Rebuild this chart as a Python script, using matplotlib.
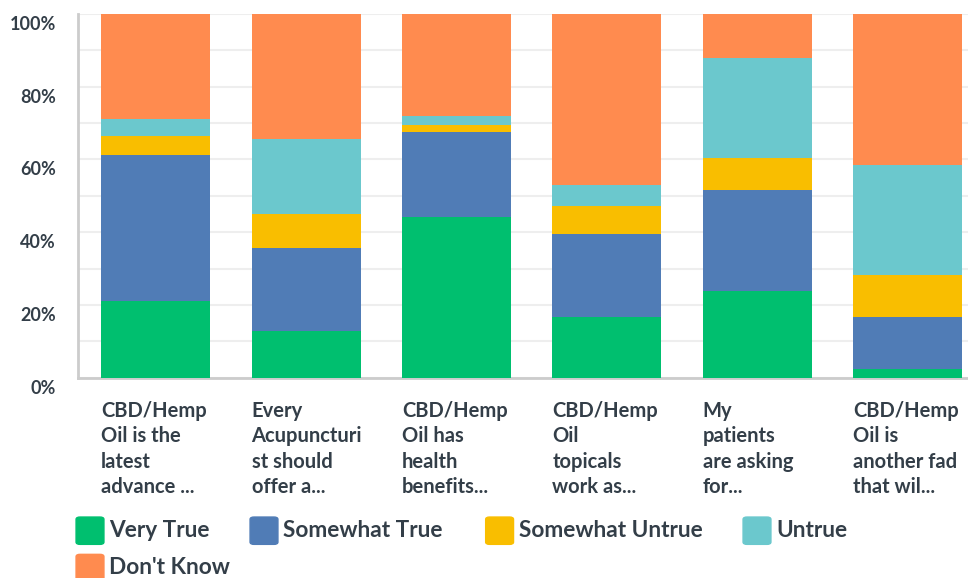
import matplotlib
matplotlib.use("Agg")
import matplotlib.pyplot as plt
import numpy as np
from matplotlib.patches import FancyBboxPatch
from matplotlib.transforms import ScaledTranslation

plt.rcParams['font.family'] = ['Lato', 'DejaVu Sans']

categories = [
    "CBD/Hemp\nOil is the\nlatest\nadvance ...",
    "Every\nAcupuncturi\nst should\noffer a...",
    "CBD/Hemp\nOil has\nhealth\nbenefits...",
    "CBD/Hemp\nOil\ntopicals\nwork as...",
    "My\npatients\nare asking\nfor...",
    "CBD/Hemp\nOil is\nanother fad\nthat wil...",
]
series_names = ["Very True", "Somewhat True", "Somewhat Untrue", "Untrue", "Don't Know"]
very_true = [21.1, 12.8, 44.2, 16.7, 23.8, 2.4]
somewhat_true = [40.1, 22.9, 23.4, 22.8, 27.8, 14.3]
somewhat_untrue = [5.3, 9.4, 1.9, 7.8, 8.9, 11.5]
untrue = [4.6, 20.5, 2.5, 5.7, 27.4, 30.3]
dont_know = [28.9, 34.4, 28.0, 47.0, 12.1, 41.5]
yticks = [0, 20, 40, 60, 80, 100]
ytick_labels = ["0%", "20%", "40%", "60%", "80%", "100%"]

colors = ["#00BF6F", "#507CB6", "#F9BE00", "#6BC8CD", "#FF8B4F"]
text_color = "#333E48"

W, H = 968, 578
fig = plt.figure(figsize=(W / 100, H / 100), dpi=100)
ax = fig.add_axes([78 / W, 1 - 377.7 / H, (W - 78) / W, (377.7 - 14) / H])

x = np.arange(len(categories))
bw = 0.725
bottom = np.zeros(len(categories))
for name, vals, c in zip(series_names, [very_true, somewhat_true, somewhat_untrue, untrue, dont_know], colors):
    ax.bar(x, vals, bw, bottom=bottom, color=c, label=name, zorder=3, linewidth=0)
    bottom += np.array(vals)

ax.set_ylim(0, 100)
ax.set_xlim(-0.516, 5.40)
ax.set_yticks(yticks)
ax.set_yticklabels(ytick_labels)
ax.set_yticks(np.arange(10, 100, 10), minor=True)
ax.grid(axis='y', which='both', color='#EEEEEE', linewidth=1.5, zorder=0)
ax.tick_params(axis='y', which='both', length=0, pad=16, labelsize=13, labelcolor=text_color)
ax.tick_params(axis='x', length=0, labelbottom=False)
for lbl in ax.get_yticklabels():
    lbl.set_fontweight('bold')
    lbl.set_transform(lbl.get_transform() + ScaledTranslation(0, -9 / 100, fig.dpi_scale_trans))
for s in ['top', 'right']:
    ax.spines[s].set_visible(False)
for s in ['left', 'bottom']:
    ax.spines[s].set_color('#CCCCCC')
    ax.spines[s].set_linewidth(2)

# category labels
for i, cat in enumerate(categories):
    ax.annotate(cat, xy=(i - bw / 2, 0), xycoords='data', xytext=(0, -23), textcoords='offset pixels',
                ha='left', va='top', fontsize=14.5, fontweight='bold', color=text_color,
                linespacing=1.34, annotation_clip=False)

# legend
leg_items = [(76, 530.7), (250, 530.7), (485.6, 530.7), (743, 530.7), (76, 568)]
for (px, py), name, c in zip(leg_items, series_names, colors):
    p = FancyBboxPatch(((px + 2) / W, 1 - (py + 12.5) / H), 24 / W, 25 / H,
                       boxstyle="round,pad=0.002,rounding_size=0.004", transform=fig.transFigure,
                       facecolor=c, edgecolor=c, linewidth=1)
    fig.patches.append(p)
    fig.text((px + 33) / W, 1 - py / H, name, ha='left', va='center', fontsize=16.3,
             fontweight='bold', color=text_color)

fig.savefig("out.png", dpi=100)
